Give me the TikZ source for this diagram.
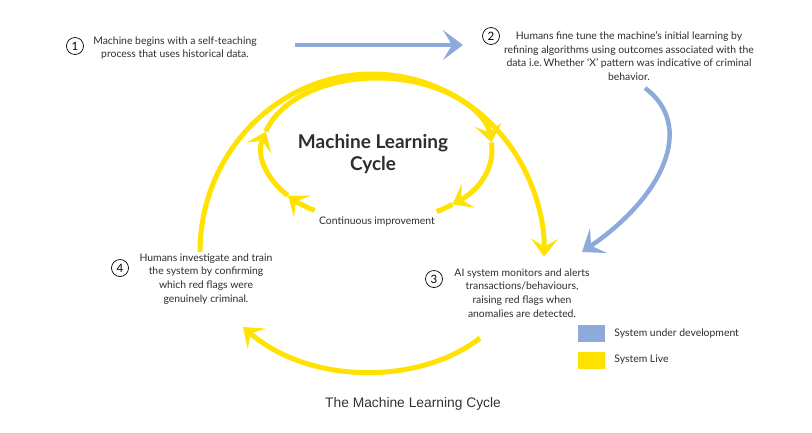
\documentclass[tikz,border=0pt]{standalone}
\usepackage{fontspec}
\setmainfont{Lato}
\newfontfamily\captionfont{Liberation Sans}
\usetikzlibrary{arrows.meta, positioning}

\definecolor{devblue}{RGB}{142,170,219}
\definecolor{liveyellow}{RGB}{255,226,0}
\definecolor{inkgray}{RGB}{45,45,45}

\begin{document}
\begin{tikzpicture}[x=1pt, y=-1pt, text=inkgray,
    font=\fontsize{10.4}{13.8}\selectfont,
    live/.style={liveyellow, line width=5pt},
    dev/.style={devblue, line width=4.5pt},
    livehead/.tip={Stealth[length=18pt, width=27pt, inset=8pt]},
    devhead/.tip={Stealth[length=20pt, width=30pt, inset=9pt]},
    numcirc/.style={draw=black, circle, line width=0.7pt, inner sep=0pt,
        minimum size=17pt, text=black, font=\fontsize{11.5}{12}\selectfont},
    stepnote/.style={align=center, inner sep=1pt},
    keybox/.style={minimum width=27pt, minimum height=17pt, inner sep=0pt}]
  \useasboundingbox (0,0) rectangle (812,432);
  % step texts with their numbers
  \node[numcirc] (num1) at (75,46) {1};
  \node[stepnote] (step1) at (175,48)
    {Machine begins with a self-teaching\\process that uses historical data.};
  \node[numcirc] (num2) at (491,36) {2};
  \node[stepnote] (step2) at (629,56)
    {Humans fine tune the machine's initial learning by\\
     refining algorithms using outcomes associated with the\\
     data i.e.\,Whether `X' pattern was indicative of criminal\\
     behavior.};
  \node[numcirc] (num3) at (434,279) {3};
  \node[stepnote] (step3) at (522,293)
    {AI system monitors and alerts\\transactions/behaviours,\\
     raising red flags when\\anomalies are detected.};
  \node[numcirc] (num4) at (120,268) {4};
  \node[stepnote] (step4) at (206,279)
    {Humans investigate and train\\the system by confirming\\
     which red flags were\\genuinely criminal.};
  % centre of the cycle
  \node[font=\fontsize{19}{22}\selectfont\bfseries, align=center]
    (title) at (373,154) {Machine Learning\\Cycle};
  \node (loop) at (377,222) {Continuous improvement};
  % system under development (blue)
  \coordinate (devstart) at (295,45);
  \coordinate (devend) at (463,45);
  \draw[dev, -devhead] (devstart) -- (devend);
  \coordinate (tunestart) at (645,88);
  \coordinate (tuneend) at (582,252);
  \draw[dev, -devhead] (tunestart) .. controls (695,125) and (665,195) .. (tuneend);
  % inner ring, centre (377,150), radii 115 and 72, clockwise with four heads
  \coordinate (ring) at (377,150);
  \draw[live, -livehead] ([shift={(122.8:115 and 72)}]ring)
    arc[start angle=122.8, end angle=140.8, x radius=115, y radius=72];
  \draw[live, -livehead] ([shift={(140.8:115 and 72)}]ring)
    arc[start angle=140.8, end angle=194.9, x radius=115, y radius=72];
  \draw[live, -livehead] ([shift={(194.9:115 and 72)}]ring)
    arc[start angle=194.9, end angle=354, x radius=115, y radius=72];
  \draw[live, -livehead] ([shift={(354:115 and 72)}]ring)
    arc[start angle=354, end angle=409, x radius=115, y radius=72];
  \draw[live] ([shift={(409:115 and 72)}]ring)
    arc[start angle=409, end angle=418.7, x radius=115, y radius=72];
  % outer arc from step 4 over the top down to step 3
  \coordinate (outer) at (372,252);
  \draw[live, -livehead] ([shift={(180:172 and 178)}]outer)
    arc[start angle=180, end angle=361.5, x radius=172, y radius=178];
  % lower arc from step 3 back to step 4
  \coordinate (lowstart) at (480,338);
  \coordinate (lowend) at (243,327);
  \draw[live, -livehead] (lowstart) .. controls (420,385) and (310,385) .. (lowend);
  % legend
  \node[keybox, fill=devblue] (keydev) at (591.5,333.5) {};
  \node[right=9pt of keydev, inner sep=0pt] (keydevtext) {System under development};
  \node[keybox, fill=liveyellow] (keylive) at (591.5,360) {};
  \node[right=9pt of keylive, inner sep=0pt] (keylivetext) {System Live};
  % caption
  \node[font=\captionfont\fontsize{13.8}{16}\selectfont, text=black!80]
    (caption) at (413,404) {The Machine Learning Cycle};
\end{tikzpicture}
\end{document}
